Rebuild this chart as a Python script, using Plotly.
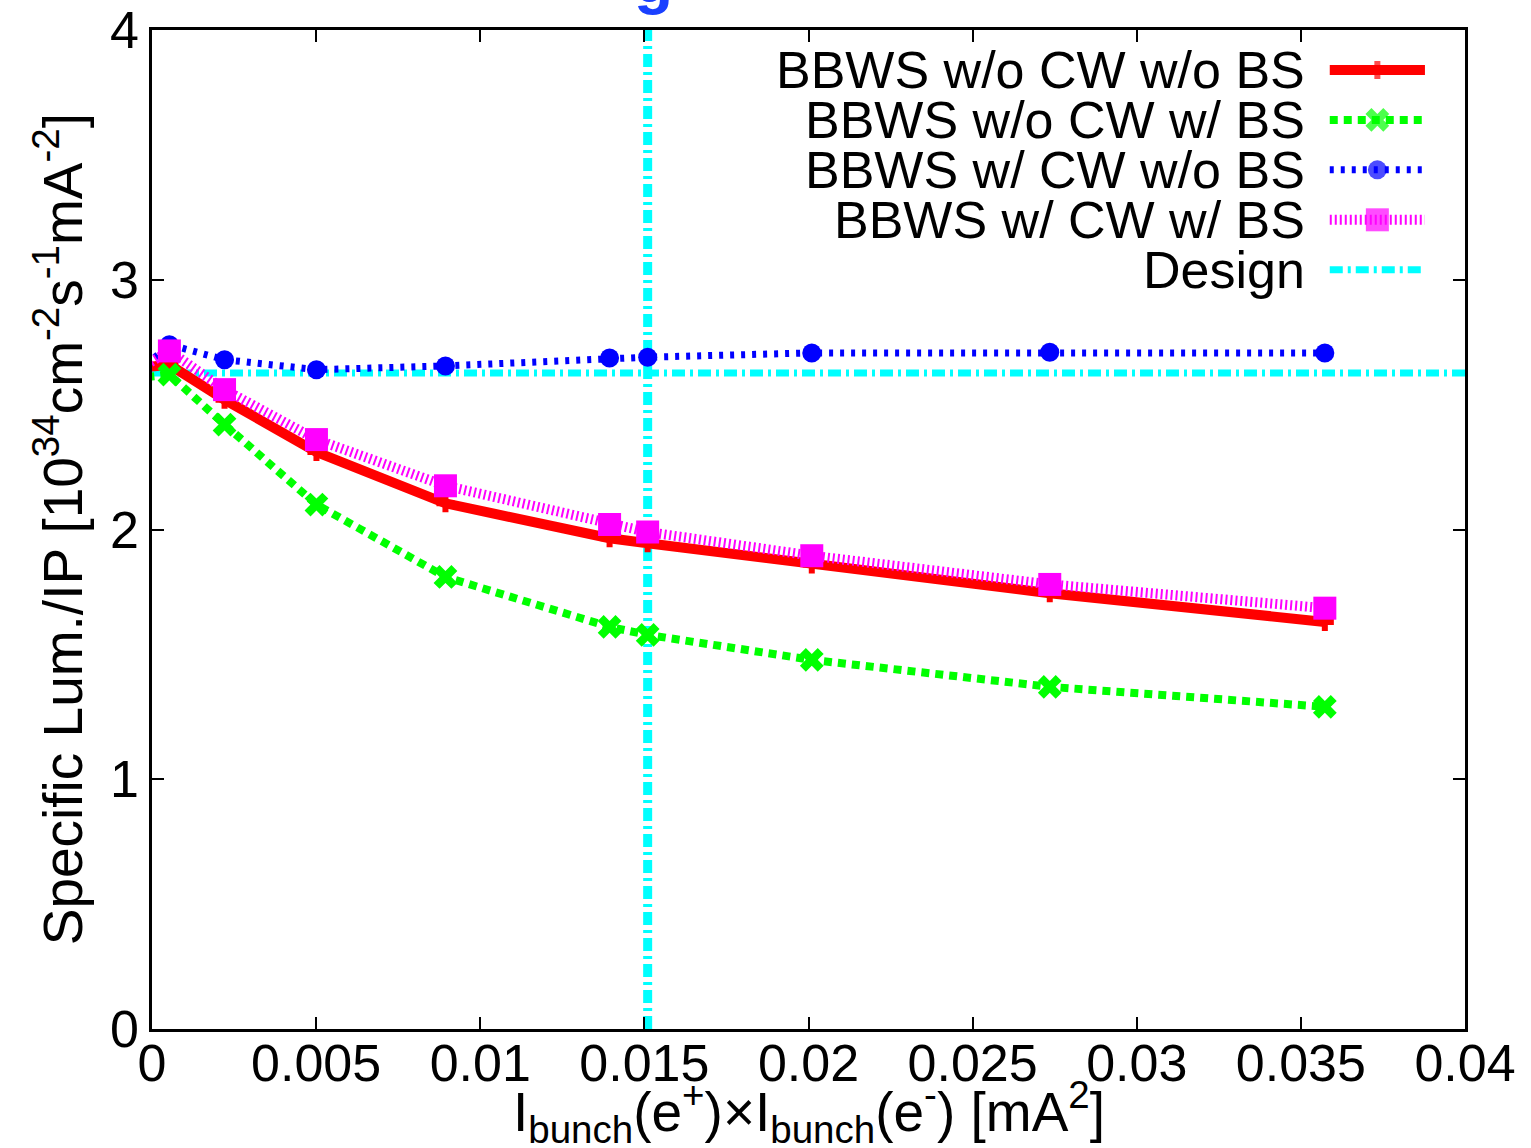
import plotly.graph_objects as go

# Bunch current product I_bunch(e+) x I_bunch(e-) [mA^2]
current_product = [-0.00017, 0.00053, 0.00221, 0.00501, 0.00894,
                   0.01394, 0.01510, 0.02010, 0.02735, 0.03573]

# Specific luminosity per IP [1e34 cm^-2 s^-1 mA^-2]
lum_nocw_nobs = [2.65, 2.66, 2.52, 2.31, 2.105, 1.965, 1.945, 1.86, 1.745, 1.63]
lum_nocw_bs = [2.61, 2.62, 2.42, 2.10, 1.81, 1.61, 1.578, 1.478, 1.37, 1.29]
lum_cw_nobs = [2.66, 2.74, 2.68, 2.64, 2.655, 2.687, 2.69, 2.707, 2.71, 2.707]
lum_cw_bs = [2.66, 2.715, 2.56, 2.36, 2.175, 2.02, 1.99, 1.895, 1.78, 1.685]

# Design working point
design_lum = 2.627
design_product = 0.0151

series_names = ["BBWS w/o CW w/o BS", "BBWS w/o CW w/ BS",
                "BBWS w/ CW w/o BS", "BBWS w/ CW w/ BS", "Design"]

x_ticks = [0, 0.005, 0.01, 0.015, 0.02, 0.025, 0.03, 0.035, 0.04]
x_tick_text = ["0", "0.005", "0.01", "0.015", "0.02", "0.025", "0.03", "0.035", "0.04"]
y_ticks = [0, 1, 2, 3, 4]

FONT = "Liberation Sans, Arial, Helvetica, sans-serif"
FS = 52
TITLE_FS = 55

styles = [
    dict(color="#ff0000", width=10, dash="solid", symbol="cross", size=15),
    dict(color="#00ff00", width=8, dash="8px,6px", symbol="x", size=21),
    dict(color="#0000ff", width=7, dash="4px,7px", symbol="circle", size=19),
    dict(color="#ff00ff", width=10, dash="2px,3px", symbol="square", size=23),
    dict(color="#00ffff", width=7, dash="13px,5px,3px,5px", symbol=None, size=0),
]

fig = go.Figure()

# Design reference lines (horizontal and vertical), drawn underneath
dst = styles[4]
fig.add_trace(go.Scatter(
    x=[0, 0.04], y=[design_lum, design_lum], mode="lines",
    line=dict(color=dst["color"], width=dst["width"], dash=dst["dash"]),
    showlegend=False, hoverinfo="skip",
))
fig.add_trace(go.Scatter(
    x=[design_product, design_product], y=[0, 4], mode="lines",
    line=dict(color=dst["color"], width=dst["width"] + 2, dash=dst["dash"]),
    showlegend=False, hoverinfo="skip",
))

for name, ys, st in zip(series_names[:4],
                        [lum_nocw_nobs, lum_nocw_bs, lum_cw_nobs, lum_cw_bs],
                        styles[:4]):
    fig.add_trace(go.Scatter(
        x=current_product, y=ys, name=name, mode="lines+markers",
        line=dict(color=st["color"], width=st["width"], dash=st["dash"]),
        marker=dict(symbol=st["symbol"], size=st["size"], color=st["color"],
                    line=dict(width=0)),
        cliponaxis=False, showlegend=False,
    ))

# Key drawn on an overlay axis spanning the plot area (0..1 both ways)
key_x0, key_x1 = 0.897, 0.9695
key_text_x = 0.8797
key_rows = [0.960, 0.910, 0.860, 0.810, 0.760]
for name, st, ky in zip(series_names, styles, key_rows):
    xm = (key_x0 + key_x1) / 2
    if st["symbol"]:
        fig.add_trace(go.Scatter(
            x=[key_x0, xm, key_x1], y=[ky, ky, ky], mode="lines+markers",
            line=dict(color=st["color"], width=st["width"], dash=st["dash"]),
            marker=dict(symbol=st["symbol"], size=[0, st["size"], 0],
                        color=st["color"], line=dict(width=0)),
            xaxis="x2", yaxis="y2", showlegend=False, hoverinfo="skip",
        ))
    else:
        fig.add_trace(go.Scatter(
            x=[key_x0, key_x1], y=[ky, ky], mode="lines",
            line=dict(color=st["color"], width=st["width"], dash=st["dash"]),
            xaxis="x2", yaxis="y2", showlegend=False, hoverinfo="skip",
        ))
    fig.add_annotation(
        x=key_text_x, y=ky, xref="paper", yref="paper", text=name,
        showarrow=False, xanchor="right", yanchor="middle",
        font=dict(family=FONT, size=FS, color="black"),
    )

axis_common = dict(
    showline=True, linecolor="black", linewidth=2.5, mirror="allticks",
    ticks="inside", ticklen=12, tickwidth=2, tickcolor="black",
    showgrid=False, zeroline=False, automargin=False,
    tickfont=dict(family=FONT, size=FS, color="black"),
)

fig.update_layout(
    width=1531, height=1148,
    margin=dict(l=152, r=66, t=30, b=119, autoexpand=False),
    plot_bgcolor="white", paper_bgcolor="white",
    xaxis=dict(range=[0, 0.04], tickvals=x_ticks, ticktext=x_tick_text,
               ticklabelstandoff=-13, **axis_common),
    yaxis=dict(range=[0, 4], tickvals=y_ticks, **axis_common),
    xaxis2=dict(overlaying="x", range=[0, 1], visible=False),
    yaxis2=dict(overlaying="y", range=[0, 1], visible=False),
    showlegend=False,
)

# Axis titles
fig.add_annotation(
    x=0.5, y=-0.042, xref="paper", yref="paper", yanchor="top",
    text="I<sub>bunch</sub>(e<sup>+</sup>)×I<sub>bunch</sub>(e<sup>-</sup>) [mA<sup>2</sup>]",
    showarrow=False, font=dict(family=FONT, size=TITLE_FS, color="black"),
)
fig.add_annotation(
    x=-0.071, y=0.5, xref="paper", yref="paper", xanchor="center",
    textangle=-90,
    text="Specific Lum./IP [10<sup>34</sup>cm<sup>-2</sup>s<sup>-1</sup>mA<sup>-2</sup>]",
    showarrow=False, font=dict(family=FONT, size=TITLE_FS, color="black"),
)

# Heading running above the top edge of the page
fig.add_annotation(
    x=0.3816, y=1.012, xref="paper", yref="paper", yanchor="bottom",
    text="<b>g</b>", showarrow=False,
    font=dict(family=FONT, size=64, color="#1a40ff"),
)

fig.write_html("out.html")
